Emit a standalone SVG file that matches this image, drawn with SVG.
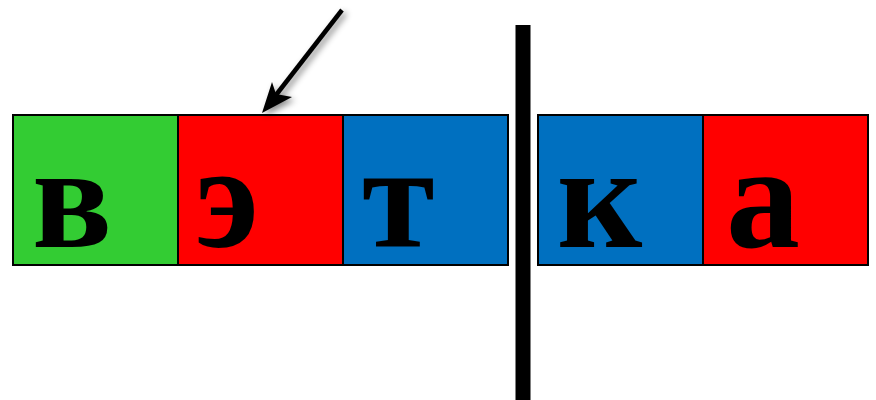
<svg xmlns="http://www.w3.org/2000/svg" width="876" height="400" viewBox="0 0 876 400">
<style>
.box{stroke:#000;stroke-width:2}
.g{fill:#33CC33}.r{fill:#FF0000}.b{fill:#0070C0}
.t{font-family:"Liberation Serif","Times New Roman",Times,serif;font-weight:bold;font-size:148px;fill:#000}
</style>
<defs>
<filter id="sh" x="-50%" y="-50%" width="200%" height="200%">
<feDropShadow dx="3" dy="3" stdDeviation="3" flood-color="#000" flood-opacity="0.45"/>
</filter>
</defs>
<g id="node-v"><rect class="box g" x="13" y="115" width="165" height="150"/><text class="t" x="32" y="247">в</text></g>
<g id="node-e"><rect class="box r" x="178" y="115" width="165" height="150"/><text class="t" x="195" y="247">э</text></g>
<g id="node-t"><rect class="box b" x="343" y="115" width="165" height="150"/><text class="t" x="362" y="247">т</text></g>
<g id="node-k"><rect class="box b" x="538" y="115" width="165" height="150"/><text class="t" x="557" y="247">к</text></g>
<g id="node-a"><rect class="box r" x="703" y="115" width="165" height="150"/><text class="t" x="726" y="247">а</text></g>
<g id="divider"><rect x="515.5" y="25" width="15" height="375" fill="#000"/></g>
<g id="connectors" filter="url(#sh)">
<line x1="342" y1="10" x2="276" y2="95" stroke="#000" stroke-width="4.5"/>
<polygon points="262,113 272,82 276,94 292,97" fill="#000"/>
</g>
</svg>
